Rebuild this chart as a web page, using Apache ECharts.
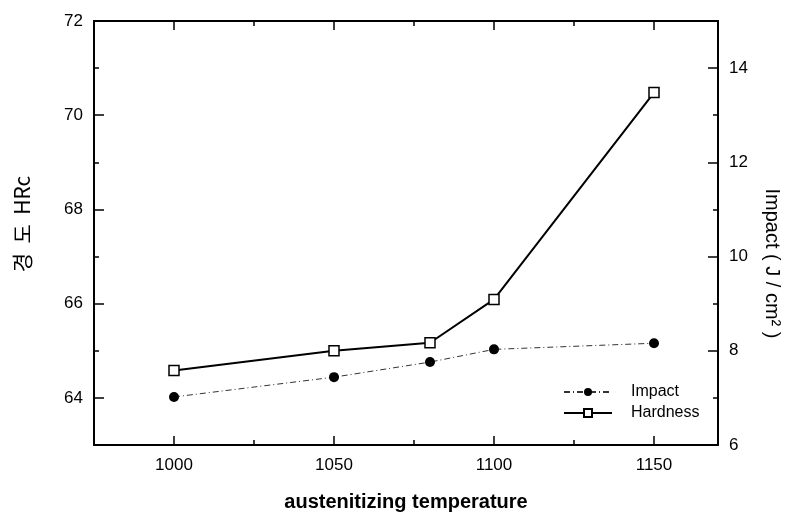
<!DOCTYPE html>
<html>
<head>
<meta charset="utf-8">
<script src="https://cdn.jsdelivr.net/npm/echarts@6/dist/echarts.min.js"></script>
<style>html,body{margin:0;padding:0;background:#fff;}#chart{width:796px;height:517px;}</style>
</head>
<body>
<div id="chart"></div>
<script>
const temperatures = [1000, 1050, 1080, 1100, 1150];
const impactValues = [7.02, 7.44, 7.76, 8.03, 8.16];
const hardnessValues = [64.58, 65.0, 65.17, 66.09, 70.48];
const xMajorTicks = [1000, 1050, 1100, 1150];
const xMinorTicks = [1025, 1075, 1125];
const leftMajorTicks = [64, 66, 68, 70, 72];
const leftMinorTicks = [65, 67, 69, 71];
const rightMajorTicks = [6, 8, 10, 12, 14];
const rightMinorTicks = [7, 9, 11, 13];

const FONT = '"Liberation Sans", Arial, sans-serif';
const lineBlack = { color: '#000', width: 2 };

function xAx(pos, ticks, len, showLine, showLabel, extra) {
  return Object.assign({
    type: 'value', position: pos, min: 975, max: 1170,
    splitLine: { show: false },
    axisLine: { show: showLine, onZero: false, lineStyle: lineBlack },
    axisTick: { show: true, inside: true, length: len, customValues: ticks, lineStyle: { color: '#000', width: 1.5 } },
    axisLabel: showLabel ? { customValues: ticks, formatter: v => String(v), color: '#000', fontSize: 17, fontFamily: FONT, margin: 12 } : { show: false }
  }, extra || {});
}
function yAx(pos, min, max, ticks, len, showLine, showLabel, extra) {
  return Object.assign({
    type: 'value', position: pos, min: min, max: max,
    splitLine: { show: false },
    axisLine: { show: showLine, onZero: false, lineStyle: lineBlack },
    axisTick: { show: true, inside: true, length: len, customValues: ticks, lineStyle: { color: '#000', width: 1.5 } },
    axisLabel: showLabel ? { customValues: ticks, formatter: v => String(v), color: '#000', fontSize: 17, fontFamily: FONT, margin: 11 } : { show: false }
  }, extra || {});
}

const chart = echarts.init(document.getElementById('chart'));
chart.setOption({
  backgroundColor: '#fff',
  animation: false,
  grid: { left: 94, right: 78, top: 21, bottom: 61 },
  legend: {
    orient: 'vertical', left: 563, top: 384, padding: 0,
    itemWidth: 48, itemHeight: 10, itemGap: 5,
    textStyle: { color: '#000', fontSize: 16, fontFamily: FONT, padding: [0, 0, 0, 14] },
    data: ['Impact', 'Hardness']
  },
  xAxis: [
    xAx('bottom', xMajorTicks, 9, true, true, {
      name: 'austenitizing temperature', nameLocation: 'middle', nameGap: 47,
      nameTextStyle: { color: '#000', fontSize: 20, fontWeight: 'bold', fontFamily: FONT }
    }),
    xAx('bottom', xMinorTicks, 5, false, false),
    xAx('top', xMajorTicks, 9, true, false),
    xAx('top', xMinorTicks, 5, false, false)
  ],
  yAxis: [
    yAx('left', 63, 72, leftMajorTicks, 10, true, true, {
      name: '경  도  HRc', nameLocation: 'middle', nameGap: 61,
      nameTextStyle: { color: '#000', fontSize: 21, fontFamily: '"Noto Sans CJK KR", ' + FONT, padding: [0, 0, 0, 18] }
    }),
    yAx('left', 63, 72, leftMinorTicks, 5, false, false),
    yAx('right', 6, 15, rightMajorTicks, 10, true, true, {
      name: 'Impact ( J / cm\u00B2 )', nameLocation: 'middle', nameGap: 44, nameRotate: -90,
      nameTextStyle: { color: '#000', fontSize: 20, fontFamily: FONT, padding: [0, 0, 0, 61] }
    }),
    yAx('right', 6, 15, rightMinorTicks, 5, false, false)
  ],
  series: [
    {
      name: 'Impact', type: 'line', xAxisIndex: 0, yAxisIndex: 2,
      data: temperatures.map((t, i) => [t, impactValues[i]]),
      symbol: 'circle', symbolSize: 10,
      itemStyle: { color: '#000' },
      lineStyle: { color: '#333', width: 1, type: [6, 3, 1, 3] },
      z: 3
    },
    {
      name: 'Hardness', type: 'line', xAxisIndex: 0, yAxisIndex: 0,
      data: temperatures.map((t, i) => [t, hardnessValues[i]]),
      symbol: 'rect', symbolSize: 10, showAllSymbol: true,
      itemStyle: { color: '#fff', borderColor: '#000', borderWidth: 1.5 },
      lineStyle: { color: '#000', width: 2 },
      z: 4
    }
  ]
});
</script>
</body>
</html>
